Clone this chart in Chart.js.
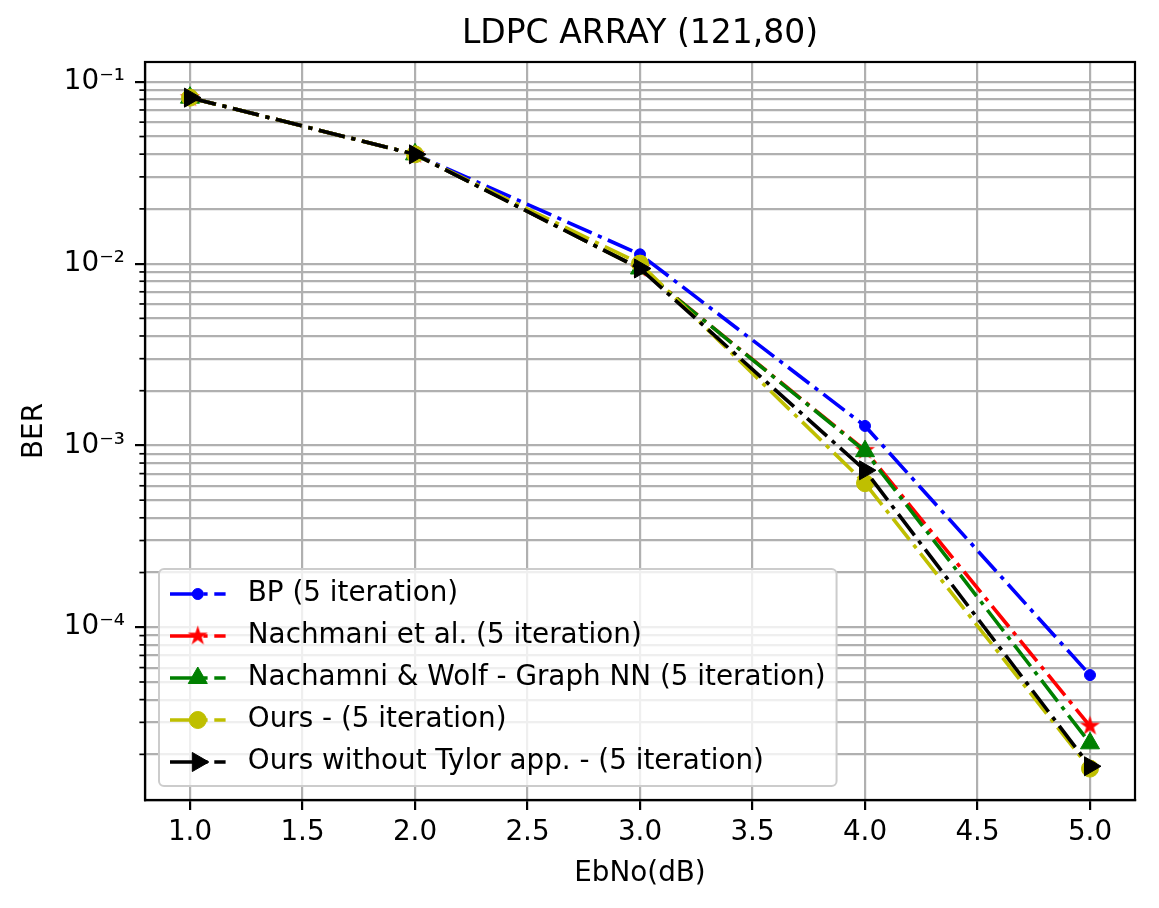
<!DOCTYPE html>
<html>
<head>
<meta charset="utf-8">
<script src="https://cdn.jsdelivr.net/npm/chart.js@4.4.1/dist/chart.umd.min.js"></script>
<style>
  html, body { margin: 0; padding: 0; background: #fff; }
  #wrap { width: 1159px; height: 908px; }
</style>
</head>
<body>
<div id="wrap"><canvas id="berChart" width="1159" height="908"></canvas></div>
<script>
// --- values ---
const ebno = [1.0, 2.0, 3.0, 4.0, 5.0];
const berBP = [0.0818, 0.0399, 0.01125, 0.00128, 5.46e-5];
const berNachmani = [0.0818, 0.0399, 0.0094, 0.00094, 2.86e-5];
const berGraphNN = [0.0818, 0.0399, 0.0094, 0.00093, 2.30e-5];
const berOurs = [0.0818, 0.0399, 0.0100, 0.00062, 1.67e-5];
const berOursNoTaylor = [0.0818, 0.0399, 0.0094, 0.00073, 1.72e-5];

const chartTitle = 'LDPC ARRAY (121,80)';
const seriesLabels = [
  'BP (5 iteration)',
  'Nachmani et al. (5 iteration)',
  'Nachamni & Wolf - Graph NN (5 iteration)',
  'Ours - (5 iteration)',
  'Ours without Tylor app. - (5 iteration)'
];
const xTicks = [1.0, 1.5, 2.0, 2.5, 3.0, 3.5, 4.0, 4.5, 5.0];
const yDecades = [1e-1, 1e-2, 1e-3, 1e-4];
const yDecadeLabels = ['10\u207B\u00B9', '10\u207B\u00B2', '10\u207B\u00B3', '10\u207B\u2074'];

const FONT = 'DejaVu Sans';
const DASH = [26.7, 6.7, 4.2, 6.7];

// filled five point star, like matplotlib '*'
function makeStar(r, color) {
  const s = Math.ceil(2 * r + 4);
  const c = document.createElement('canvas');
  c.width = s; c.height = s;
  const g = c.getContext('2d');
  g.fillStyle = color;
  g.beginPath();
  for (let k = 0; k < 10; k++) {
    const rr = k % 2 ? r * 0.382 : r;
    const a = -Math.PI / 2 + k * Math.PI / 5;
    g.lineTo(s / 2 + rr * Math.cos(a), s / 2 + rr * Math.sin(a));
  }
  g.closePath();
  g.fill();
  return c;
}
const redStar = makeStar(10.5, '#ff0000');

const styles = [
  { color: '#0000ff', pointStyle: 'circle', radius: 5.5, rotation: 0 },
  { color: '#ff0000', pointStyle: redStar, radius: 10.5, rotation: 0 },
  { color: '#008000', pointStyle: 'triangle', radius: 11, rotation: 0 },
  { color: '#bfbf00', pointStyle: 'circle', radius: 8.5, rotation: 0 },
  { color: '#000000', pointStyle: 'triangle', radius: 11, rotation: 90 }
];
const seriesValues = [berBP, berNachmani, berGraphNN, berOurs, berOursNoTaylor];

const datasets = seriesValues.map((vals, i) => ({
  label: seriesLabels[i],
  data: ebno.map((x, k) => ({ x: x, y: vals[k] })),
  borderColor: styles[i].color,
  backgroundColor: styles[i].color,
  borderWidth: 3.6,
  borderDash: DASH,
  borderCapStyle: 'butt',
  tension: 0,
  fill: false,
  pointStyle: styles[i].pointStyle,
  pointRadius: styles[i].radius,
  pointRotation: styles[i].rotation,
  pointBorderWidth: 1,
  pointBorderColor: styles[i].color,
  pointBackgroundColor: styles[i].color,
  order: seriesValues.length - i
}));

function isDecade(v) {
  const l = Math.log10(v);
  return Math.abs(l - Math.round(l)) < 1e-6;
}

// marker for the legend, same shapes as the plot
function drawMarker(ctx, st, x, y) {
  ctx.save();
  ctx.setLineDash([]);
  ctx.fillStyle = st.color;
  ctx.strokeStyle = st.color;
  ctx.lineWidth = 1;
  if (st.pointStyle === 'circle') {
    ctx.beginPath();
    ctx.arc(x, y, st.radius, 0, Math.PI * 2);
    ctx.fill(); ctx.stroke();
  } else if (st.pointStyle === 'triangle') {
    let rad = st.rotation * Math.PI / 180;
    ctx.beginPath();
    for (let k = 0; k < 3; k++) {
      ctx.lineTo(x + Math.sin(rad) * st.radius, y - Math.cos(rad) * st.radius);
      rad += 2 * Math.PI / 3;
    }
    ctx.closePath();
    ctx.fill(); ctx.stroke();
  } else {
    ctx.drawImage(st.pointStyle, x - st.pointStyle.width / 2, y - st.pointStyle.height / 2);
  }
  ctx.restore();
}

const framePlugin = {
  id: 'frame',
  afterDatasetsDraw(chart) {
    const ctx = chart.ctx, ca = chart.chartArea, ys = chart.scales.y;
    ctx.save();
    // short minor ticks on the y axis
    ctx.strokeStyle = '#000';
    ctx.lineWidth = 1.7;
    ys.ticks.forEach(t => {
      if (isDecade(t.value)) return;
      const py = ys.getPixelForValue(t.value);
      ctx.beginPath();
      ctx.moveTo(ca.left - 5.6, py);
      ctx.lineTo(ca.left, py);
      ctx.stroke();
    });
    ctx.lineWidth = 2.2;
    ctx.strokeRect(ca.left, ca.top, ca.right - ca.left, ca.bottom - ca.top);
    ctx.restore();
  },
  afterDraw(chart) {
    const ctx = chart.ctx, ca = chart.chartArea;
    ctx.save();
    // title centred over the axes, as matplotlib does
    ctx.font = '33px "' + FONT + '"';
    ctx.fillStyle = '#000';
    ctx.textAlign = 'center';
    ctx.textBaseline = 'middle';
    ctx.fillText(chartTitle, (ca.left + ca.right) / 2, 34);

    ctx.font = '27.8px "' + FONT + '"';
    let maxW = 0;
    seriesLabels.forEach(l => { maxW = Math.max(maxW, ctx.measureText(l).width); });
    const x0 = ca.left + 14;
    const handleL = x0 + 11, handleR = handleL + 55.6;
    const textX = handleR + 22.2;
    const w = textX - x0 + maxW + 11;
    const h = 217;
    const y0 = ca.bottom - 14 - h;
    const r = 5;
    ctx.beginPath();
    ctx.moveTo(x0 + r, y0);
    ctx.lineTo(x0 + w - r, y0);
    ctx.arcTo(x0 + w, y0, x0 + w, y0 + r, r);
    ctx.lineTo(x0 + w, y0 + h - r);
    ctx.arcTo(x0 + w, y0 + h, x0 + w - r, y0 + h, r);
    ctx.lineTo(x0 + r, y0 + h);
    ctx.arcTo(x0, y0 + h, x0, y0 + h - r, r);
    ctx.lineTo(x0, y0 + r);
    ctx.arcTo(x0, y0, x0 + r, y0, r);
    ctx.closePath();
    ctx.fillStyle = 'rgba(255,255,255,0.8)';
    ctx.fill();
    ctx.strokeStyle = '#cccccc';
    ctx.lineWidth = 2;
    ctx.stroke();

    seriesLabels.forEach((label, i) => {
      const st = styles[i];
      const ry = y0 + 25 + 42 * i;
      ctx.save();
      ctx.strokeStyle = st.color;
      ctx.lineWidth = 3.6;
      ctx.lineCap = 'butt';
      ctx.setLineDash(DASH);
      ctx.beginPath();
      ctx.moveTo(handleL, ry);
      ctx.lineTo(handleR, ry);
      ctx.stroke();
      ctx.restore();
      drawMarker(ctx, st, (handleL + handleR) / 2, ry);
      ctx.fillStyle = '#000';
      ctx.textBaseline = 'middle';
      ctx.textAlign = 'left';
      ctx.fillText(label, textX, ry);
    });
    ctx.restore();
  }
};

new Chart(document.getElementById('berChart'), {
  type: 'line',
  data: { datasets: datasets },
  plugins: [framePlugin],
  options: {
    responsive: false,
    animation: false,
    devicePixelRatio: 1,
    layout: { padding: { left: 0, right: 24, top: 62, bottom: 0 } },
    plugins: {
      legend: { display: false },
      tooltip: { enabled: false },
      title: { display: false }
    },
    scales: {
      x: {
        type: 'linear',
        min: 0.8,
        max: 5.2,
        afterBuildTicks: s => { s.ticks = xTicks.map(v => ({ value: v })); },
        afterFit: s => { s.height = 108; },
        ticks: {
          autoSkip: false,
          maxRotation: 0,
          color: '#000',
          padding: 6,
          font: { family: FONT, size: 27.8 },
          callback: v => Number(v).toFixed(1)
        },
        grid: { color: '#b0b0b0', lineWidth: 2.2, tickLength: 10, tickColor: '#000', tickWidth: 2.2 },
        border: { display: true, color: '#000', width: 2.2 },
        title: {
          display: true,
          text: 'EbNo(dB)',
          color: '#000',
          font: { family: FONT, size: 27.8 },
          padding: { top: 0, bottom: 18 }
        }
      },
      y: {
        type: 'logarithmic',
        min: 1.122e-5,
        max: 0.1285,
        afterBuildTicks: s => {
          const t = [];
          for (let e = -5; e <= -1; e++) {
            for (let m = 1; m <= 9; m++) {
              const v = m * Math.pow(10, e);
              if (v >= s.min && v <= s.max * 1.0000001) t.push({ value: v });
            }
          }
          s.ticks = t;
        },
        afterFit: s => { s.width = 145; },
        ticks: {
          autoSkip: false,
          color: '#000',
          padding: 10,
          font: { family: FONT, size: 27.8 },
          callback: v => {
            const k = yDecades.findIndex(d => Math.abs(d - v) / d < 1e-6);
            return k >= 0 ? yDecadeLabels[k] : '';
          }
        },
        grid: {
          color: '#b0b0b0',
          lineWidth: 2.2,
          tickLength: 10,
          tickWidth: 2.2,
          tickColor: c => (c.tick && isDecade(c.tick.value)) ? '#000' : 'rgba(0,0,0,0)'
        },
        border: { display: true, color: '#000', width: 2.2 },
        title: {
          display: true,
          text: 'BER',
          color: '#000',
          font: { family: FONT, size: 27.8 },
          padding: { top: 18.3, bottom: 0 }
        }
      }
    }
  }
});
</script>
</body>
</html>
